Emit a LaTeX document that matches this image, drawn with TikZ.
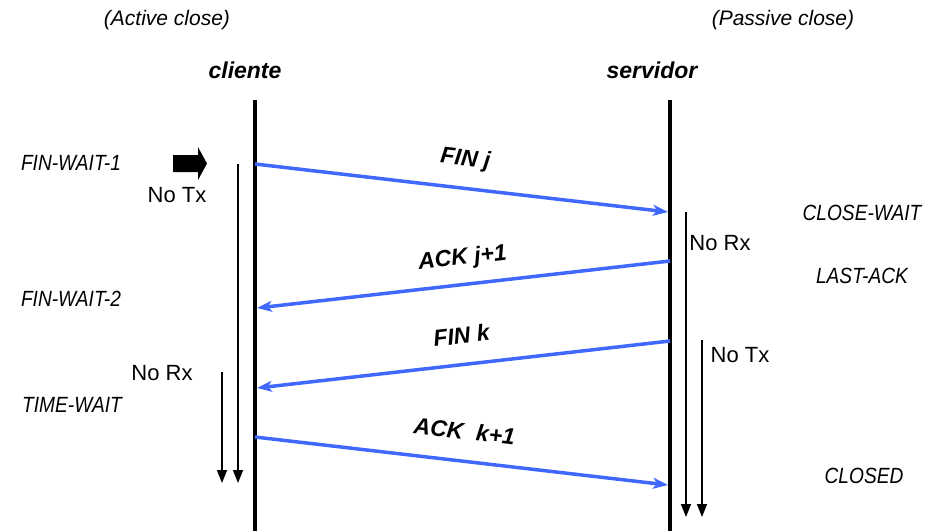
\documentclass[tikz,border=0pt]{standalone}
\usepackage{fontspec}
\setmainfont{Liberation Sans}
\newfontfamily\narrowsans[FakeStretch=0.87]{Liberation Sans}
\usetikzlibrary{arrows.meta}
\definecolor{msgblue}{RGB}{64,104,255}
\begin{document}
\begin{tikzpicture}[x=1pt,y=-1pt,
  lifeline/.style={line width=4pt},
  msg/.style={draw=msgblue,line width=3.5pt,-{Stealth[length=15pt,width=11pt,inset=4pt]}},
  period/.style={line width=1.6pt,-{Triangle[length=13pt,width=10pt]}},
  header/.style={font=\itshape\fontsize{21}{24}\selectfont, inner sep=0pt},
  state/.style={font=\narrowsans\itshape\fontsize{22}{25}\selectfont, inner sep=0pt},
  note/.style={font=\fontsize{22}{26}\selectfont, inner sep=0pt},
  role/.style={font=\bfseries\itshape\fontsize{23}{27}\selectfont, inner sep=0pt},
  msglabel/.style={font=\bfseries\itshape\fontsize{23}{27}\selectfont, inner sep=0pt, anchor=mid},
]
\useasboundingbox (0,0) rectangle (929,531);

% lifelines
\coordinate (ctop) at (255,100); \coordinate (cbot) at (255,531);
\coordinate (stop) at (670,100); \coordinate (sbot) at (670,531);
\draw[lifeline] (ctop) -- (cbot);
\draw[lifeline] (stop) -- (sbot);

% period lines
\coordinate (ctx0) at (238,164); \coordinate (ctx1) at (238,483);
\coordinate (crx0) at (222,372); \coordinate (crx1) at (222,483);
\coordinate (srx0) at (686,212); \coordinate (srx1) at (686,517);
\coordinate (stx0) at (702,340); \coordinate (stx1) at (702,517);
\draw[period] (ctx0) -- (ctx1);
\draw[period] (crx0) -- (crx1);
\draw[period] (srx0) -- (srx1);
\draw[period] (stx0) -- (stx1);

% messages
\coordinate (m1a) at (255,164); \coordinate (m1b) at (668,212);
\coordinate (m2a) at (670,261); \coordinate (m2b) at (257,308);
\coordinate (m3a) at (670,341); \coordinate (m3b) at (257,388);
\coordinate (m4a) at (255,437); \coordinate (m4b) at (668,485);
\draw[msg] (m1a) -- (m1b);
\draw[msg] (m2a) -- (m2b);
\draw[msg] (m3a) -- (m3b);
\draw[msg] (m4a) -- (m4b);

\node[msglabel, rotate=-6.6] (l1) at (465,163) {FIN j};
\node[msglabel, rotate=6.6] (l2) at (463,262) {ACK j+1};
\node[msglabel, rotate=6.6] (l3) at (462,341) {FIN k};
\node[msglabel, rotate=-6.6] (l4) at (464,437) {ACK\ \ k+1};

% big arrow
\fill (173,155) -- (198,155) -- (198,147) -- (207,163.5) -- (198,180) -- (198,172) -- (173,172) -- cycle;

% headers
\node[header] (act) at (167,20) {(Active close)};
\node[header] (pas) at (783,20) {(Passive close)};
\node[role] (cli) at (245,70) {cliente};
\node[role] (srv) at (652,70) {servidor};

% states
\node[state] (fw1) at (71,163) {FIN-WAIT-1};
\node[state] (fw2) at (71,299) {FIN-WAIT-2};
\node[state] (tw) at (72,405) {TIME-WAIT};
\node[state] (cw) at (862,213) {CLOSE-WAIT};
\node[state] (la) at (862,276) {LAST-ACK};
\node[state] (cl) at (864,476) {CLOSED};

% notes
\node[note] (n1) at (177,195) {No Tx};
\node[note] (n2) at (720,243) {No Rx};
\node[note] (n3) at (740,355) {No Tx};
\node[note] (n4) at (162,373) {No Rx};
\end{tikzpicture}
\end{document}
